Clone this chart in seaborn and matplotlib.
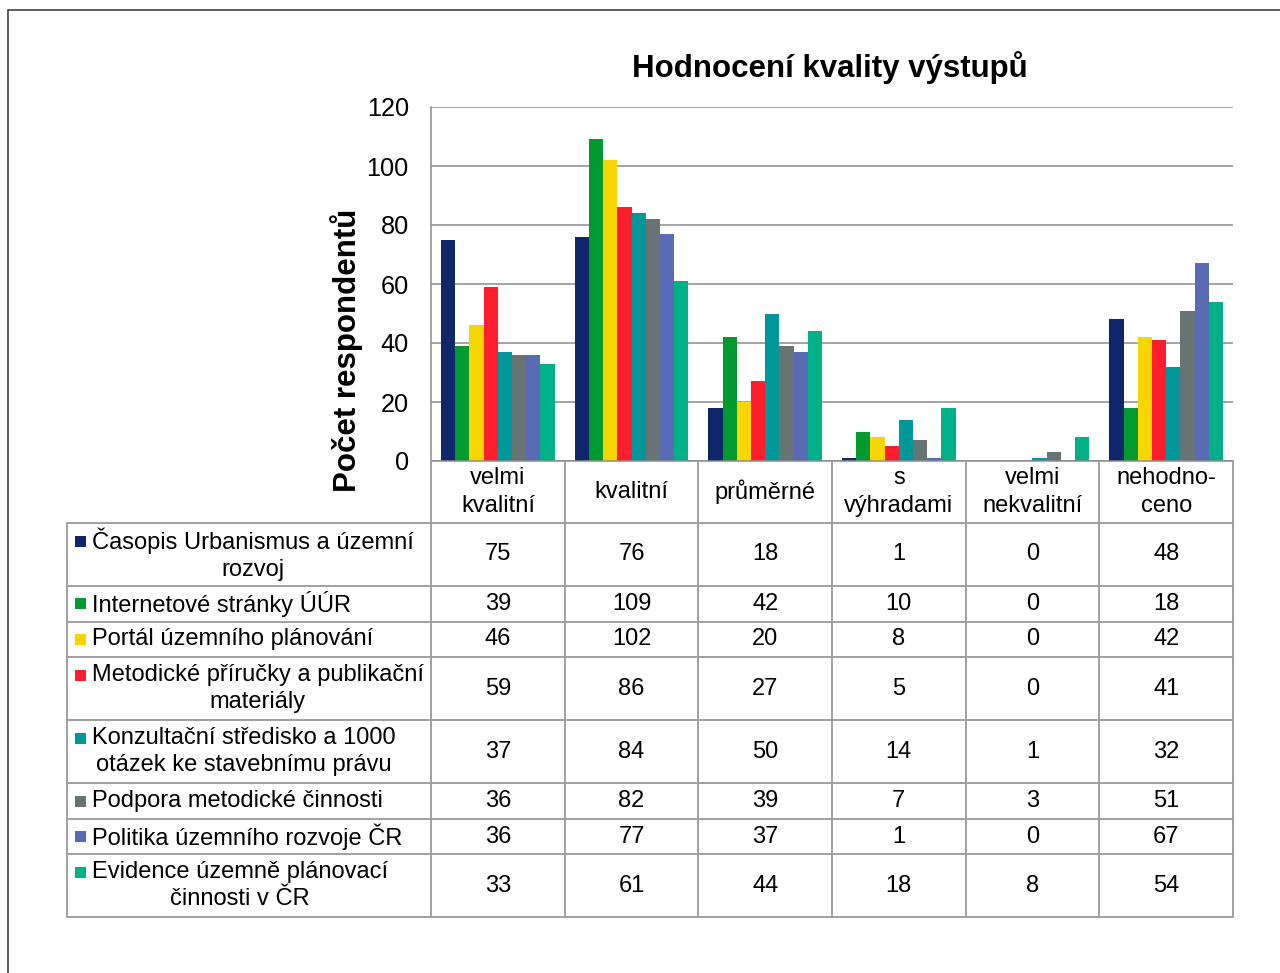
# -*- coding: utf-8 -*-
import numpy as np
import pandas as pd
import matplotlib
matplotlib.use('Agg')
import matplotlib.pyplot as plt
from matplotlib.lines import Line2D
from matplotlib.patches import Rectangle
import seaborn as sns

# data
categories = ['velmi\nkvalitní', 'kvalitní', 'průměrné', 's\nvýhradami',
              'velmi\nnekvalitní', 'nehodno-\nceno']
series = ['Časopis Urbanismus a územní\nrozvoj',
          'Internetové stránky ÚÚR',
          'Portál územního plánování',
          'Metodické příručky a publikační\nmateriály',
          'Konzultační středisko a 1000\notázek ke stavebnímu právu',
          'Podpora metodické činnosti',
          'Politika územního rozvoje ČR',
          'Evidence územně plánovací\nčinnosti v ČR']
casopis = [75, 76, 18, 1, 0, 48]
internet = [39, 109, 42, 10, 0, 18]
portal = [46, 102, 20, 8, 0, 42]
prirucky = [59, 86, 27, 5, 0, 41]
konzultace = [37, 84, 50, 14, 1, 32]
podpora = [36, 82, 39, 7, 3, 51]
politika = [36, 77, 37, 1, 0, 67]
evidence = [33, 61, 44, 18, 8, 54]
colors = ['#10266a', '#009a30', '#f7d600', '#ff1e2d',
          '#00979a', '#687474', '#5a6bb5', '#00b086']

values = [casopis, internet, portal, prirucky, konzultace, podpora, politika, evidence]
df = pd.DataFrame([(c, s, v[i]) for s, v in zip(series, values)
                   for i, c in enumerate(categories)],
                  columns=['kategorie', 'zdroj', 'pocet'])

sns.set_style('white')
plt.rcParams['font.family'] = ['Liberation Sans', 'DejaVu Sans']
plt.rcParams['text.color'] = 'black'
plt.rcParams['ytick.labelcolor'] = 'black'

W, H = 1280, 973
fig = plt.figure(figsize=(W / 100, H / 100), dpi=100)


def fx(x):
    return x / W


def fy(y):
    return 1 - y / H


# outer frame (Excel chart area)
fig.add_artist(Rectangle((fx(8), fy(1000)), fx(1300) - fx(8), fy(10) - fy(1000),
                         transform=fig.transFigure, fill=False,
                         edgecolor='#404040', linewidth=1.2))

ax_l, ax_r, ax_t, ax_b = 431, 1233, 107, 461
ax = fig.add_axes([fx(ax_l), fy(ax_b), fx(ax_r) - fx(ax_l), fy(ax_t) - fy(ax_b)])

sns.barplot(data=df, x='kategorie', y='pocet', hue='zdroj', order=categories,
            hue_order=series, palette=colors, width=0.85, saturation=1,
            linewidth=0, legend=False, ax=ax)

grid_c = '#8c8c8c'
ax.set_xlim(-0.5, len(categories) - 0.5)
ax.set_ylim(0, 120)
ax.set_yticks(np.arange(0, 121, 20))
ax.yaxis.grid(True, color=grid_c, linewidth=1.1)
ax.set_axisbelow(True)
for s in ['top', 'right']:
    ax.spines[s].set_visible(False)
for s in ['left', 'bottom']:
    ax.spines[s].set_color(grid_c)
    ax.spines[s].set_linewidth(1.1)
ax.tick_params(axis='y', length=6, width=1.1, color=grid_c, labelsize=18.2,
               labelcolor='black', pad=10)
ax.tick_params(axis='x', length=0, labelbottom=False)
ax.set_xlabel('')
ax.set_ylabel('')
fig.text(fx(347), fy(350), 'Počet respondentů', rotation=90, ha='center', va='center',
         fontsize=22.5, fontweight='bold')
fig.text(fx(830), fy(68), 'Hodnocení kvality výstupů', ha='center', va='center',
         fontsize=22.5, fontweight='bold')

# data table below the axes
line_c = '#a0a0a0'
lw = 1.4
fs = 17
ls = 1.3
tab_l = 67
hdr_b = 523
one_line, two_lines = 35.6, 63.0
trans_x = matplotlib.transforms.blended_transform_factory(ax.transData, fig.transFigure)
ncat = len(categories)


def hline(x0, x1, y):
    fig.add_artist(Line2D([fx(x0), fx(x1)], [fy(y), fy(y)], transform=fig.transFigure,
                          color=line_c, linewidth=lw))


# header row
for i in range(ncat + 1):
    fig.add_artist(Line2D([i - 0.5, i - 0.5], [fy(ax_b), fy(hdr_b)], transform=trans_x,
                          color=line_c, linewidth=lw))
for i, c in enumerate(categories):
    fig.text(i, fy((ax_b + hdr_b) / 2), c, transform=trans_x, ha='center', va='center',
             fontsize=fs, linespacing=ls)

hline(tab_l, ax_r, hdr_b)
y = hdr_b
for s, v, col in zip(series, values, colors):
    rh = two_lines if '\n' in s else one_line
    y0, y1 = y, y + rh
    yc = (y0 + y1) / 2
    for i in range(ncat + 1):
        fig.add_artist(Line2D([i - 0.5, i - 0.5], [fy(y0), fy(y1)], transform=trans_x,
                              color=line_c, linewidth=lw))
    fig.add_artist(Line2D([fx(tab_l), fx(tab_l)], [fy(y0), fy(y1)], transform=fig.transFigure,
                          color=line_c, linewidth=lw))
    hline(tab_l, ax_r, y1)
    # legend key
    ky = yc - 13.5 if '\n' in s else yc
    fig.add_artist(Rectangle((fx(75), fy(ky + 5.5)), fx(11), 11 / H,
                             transform=fig.transFigure, facecolor=col, edgecolor='none'))
    fig.text(fx(92), fy(yc), s, ha='left', va='center', multialignment='center',
             fontsize=fs, linespacing=ls)
    for i, val in enumerate(v):
        fig.text(i, fy(yc), str(val), transform=trans_x, ha='center', va='center',
                 fontsize=fs)
    y = y1

fig.savefig('out.png', dpi=100)
